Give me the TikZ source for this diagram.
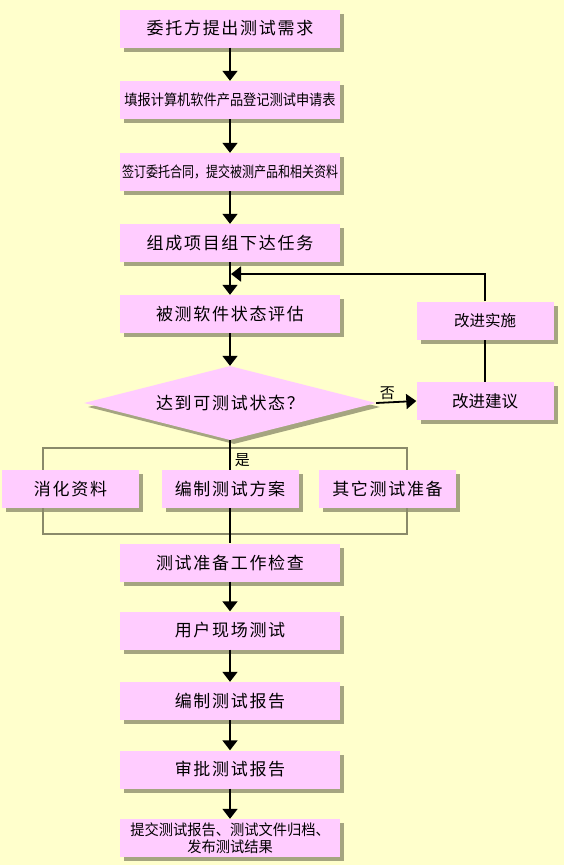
\documentclass[tikz,border=0pt]{standalone}
\usepackage{fontspec}
\setmainfont{Noto Sans CJK SC}
\newfontfamily\cjkwide[LetterSpace=10]{Noto Sans CJK SC}
\usepackage{tikz}
\usetikzlibrary{shapes.geometric,arrows.meta,shadows}
\definecolor{BgCol}  {RGB}{255,255,204}
\definecolor{BoxFill}{RGB}{255,204,255}
\definecolor{ShdCol} {RGB}{150,150,115}
\definecolor{BrkLine}{RGB}{138,138,106}
\tikzset{
  nd_box/.style={rectangle,fill=BoxFill,minimum width=220pt,minimum height=38pt,inner sep=0pt,align=center,font=\fontsize{17}{19}\cjkwide,drop shadow={shadow xshift=4pt,shadow yshift=-4pt,fill=ShdCol,opacity=0.85}},
  nd_side/.style={nd_box,minimum width=137pt},
  nd_thin/.style={nd_box,font=\fontsize{15}{17}\selectfont},
  nd_dec/.style={diamond,aspect=4,fill=BoxFill,minimum width=292pt,minimum height=74pt,inner sep=0pt,font=\fontsize{17}{19}\cjkwide,drop shadow={shadow xshift=4pt,shadow yshift=-4pt,fill=ShdCol,opacity=0.85}},
  arr/.style={-{Triangle[length=10pt,width=15pt]},line width=1.8pt},
  ln/.style={line width=1.8pt},
  brk/.style={draw=BrkLine,line width=1.8pt},
  lbl/.style={font=\fontsize{15}{17}\selectfont,inner sep=2pt},
}

\begin{document}
\begin{tikzpicture}[x=1pt,y=-1pt]
\def\cM{230}\def\cR{485}
\fill[BgCol](0,0) rectangle (564,865);
\useasboundingbox (0,0) rectangle (564,865);
% main column
\node[nd_box]  at (\cM,28.5)(T1){委托方提出测试需求};
\node[nd_thin] at (\cM,100)(T2){\scalebox{0.88}[1]{填报计算机软件产品登记测试申请表}};
\node[nd_thin] at (\cM,172)(T3){\scalebox{0.8}[1]{签订委托合同，提交被测产品和相关资料}};
\node[nd_box]  at (\cM,243)(T4){组成项目组下达任务};
\node[nd_box]  at (\cM,314)(T5){被测软件状态评估};
\node[nd_dec]  at (\cM,403)(D){达到可测试状态？};
% improvement loop
\node[nd_side,font=\fontsize{15.5}{17}\selectfont] at (\cR,320.5)(Imp){改进实施};
\node[nd_side,font=\fontsize{16.5}{18}\selectfont] at (\cR,401)(Sug){改进建议};
\coordinate (fb) at (231,274);
% preparation
\node[nd_side] at (70.5,489)(P1){消化资料};
\node[nd_side] at (\cM,489)(P2){编制测试方案};
\node[nd_side] at (387.5,489)(P3){其它测试准备};
\coordinate (bTL) at (43,448);\coordinate (bTR) at (407,448);
\coordinate (bBL) at (43,534);\coordinate (bBR) at (407,534);
% test and report
\node[nd_box]  at (\cM,562.5)(C1){测试准备工作检查};
\node[nd_box]  at (\cM,630.5)(C2){用户现场测试};
\node[nd_box]  at (\cM,701)(C3){编制测试报告};
\node[nd_box]  at (\cM,769.5)(C4){审批测试报告};
\node[nd_thin] at (\cM,838)(C5){\scalebox{0.95}[1]{\shortstack{提交测试报告、测试文件归档、\\发布测试结果}}};
% arrows
\draw[arr](T1)--(T2);\draw[arr](T2)--(T3);\draw[arr](T3)--(T4);\draw[arr](T4)--(T5);\draw[arr](T5)--(D);
\draw[arr](D.east)--(Sug.west) node[lbl,pos=0.28,above]{否};
\draw[ln](Sug.north)--(Imp.south);
\draw[arr](Imp.north)|-(fb);
\draw[brk](P1.north -| bTL)--(bTL)--(bTR)--(P3.north -| bTR);
\draw[brk](P1.south -| bBL)--(bBL)--(bBR)--(P3.south -| bBR);
\draw[ln](D.south)--(P2.north) node[lbl,pos=0.67,right,inner sep=4pt]{是};
\draw[ln](P2.south)--(C1.north);
\draw[arr](C1)--(C2);\draw[arr](C2)--(C3);\draw[arr](C3)--(C4);\draw[arr](C4)--(C5);
\end{tikzpicture}
\end{document}
